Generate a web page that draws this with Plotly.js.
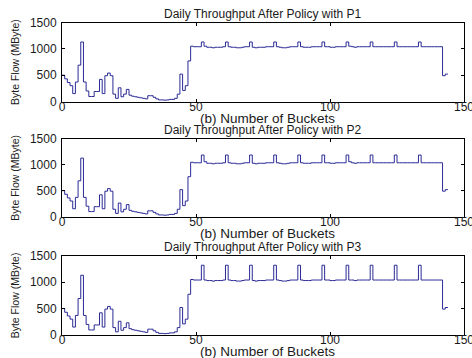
<!DOCTYPE html>
<html>
<head>
<meta charset="utf-8">
<script src="https://cdn.plot.ly/plotly-3.0.1.min.js"></script>
<style>
html,body{margin:0;padding:0;background:#fff;}
#chart{width:472px;height:358px;}
</style>
</head>
<body>
<div id="chart"></div>
<script>
// Buckets 0..48 (shared by all three policies)
const lowBuckets = [500,430,360,300,150,370,690,1130,370,200,95,95,190,190,420,150,490,540,490,140,60,260,90,140,230,120,100,90,80,70,60,50,110,110,80,50,30,30,25,30,40,40,60,140,520,210,300,770,1050];

// Buckets 49..143 for each policy
const p1Flat = [1040,1040,1040,
 1130,1050,1030,1030,1020,1030,1030,1030,1040,
 1130,1040,1030,1030,1020,1020,1030,1040,1040,
 1130,1030,1020,1030,1030,1030,1040,1040,1040,
 1130,1040,1030,1020,1020,1030,1040,1040,1040,
 1130,1040,1030,1030,1030,1040,1040,1040,1040,
 1130,1040,1040,1030,1030,1040,1040,1040,1040,
 1130,1050,1040,1030,1040,1040,1040,1040,1040,
 1130,1040,1040,1040,1040,1040,1040,1040,1040,
 1130,1040,1040,1040,1040,1040,1040,1040,1040,
 1130,1040,1040,1040,1040,1040,1040,1040,1040,
 490,520];
const p2Flat = [1040,1040,1040,
 1190,1060,1030,1030,1020,1030,1030,1030,1040,
 1190,1040,1030,1030,1020,1020,1030,1040,1040,
 1190,1030,1020,1030,1030,1030,1040,1040,1040,
 1190,1040,1030,1020,1020,1030,1040,1040,1040,
 1190,1040,1030,1030,1030,1040,1040,1040,1040,
 1190,1040,1040,1030,1030,1040,1040,1040,1040,
 1190,1060,1040,1030,1040,1040,1040,1040,1040,
 1190,1040,1040,1040,1040,1040,1040,1040,1040,
 1190,1040,1040,1040,1040,1040,1040,1040,1040,
 1190,1040,1040,1040,1040,1040,1040,1040,1040,
 490,520];
const p3Flat = [1040,1040,1040,
 1320,1040,1030,1030,1020,1030,1030,1030,1040,
 1320,1040,1030,1030,1020,1020,1030,1040,1040,
 1320,1030,1020,1030,1030,1030,1040,1040,1040,
 1320,1040,1030,1020,1020,1030,1040,1040,1040,
 1320,1040,1030,1030,1030,1040,1040,1040,1040,
 1320,1040,1040,1030,1030,1040,1040,1040,1040,
 1320,1040,1040,1030,1040,1040,1040,1040,1040,
 1320,1040,1040,1040,1040,1040,1040,1040,1040,
 1320,1040,1040,1040,1040,1040,1040,1040,1040,
 1320,1040,1040,1040,1040,1040,1040,1040,1040,
 490,520];

const policies = ['P1','P2','P3'];
const xTicks = [0,50,100,150];
const yTicks = [0,500,1000,1500];
const xLabel = '(b) Number of Buckets';
const yLabel = 'Byte Flow (MByte)';
const titlePrefix = 'Daily Throughput After Policy with ';

const W = 472, H = 358;
const plotLeft = 62, plotRight = 464;
const plotTops = [22.5, 139, 255.7];
const plotBottoms = [101.5, 216.5, 335];
const lineColor = '#2a2a96';
const textColor = '#1a1a1a';
const fontFam = 'Liberation Sans, Arial, sans-serif';

function py(px){ return 1 - px / H; }

const flats = [p1Flat, p2Flat, p3Flat];
const traces = [];
const layout = {
  width: W, height: H,
  margin: {l:0, r:0, t:0, b:0},
  paper_bgcolor: '#fff', plot_bgcolor: '#fff',
  showlegend: false,
  font: {family: fontFam, size: 12, color: textColor},
  annotations: []
};

flats.forEach((flat, k) => {
  const vals = lowBuckets.concat(flat);
  const ys = vals.concat([vals[vals.length-1]]);
  const xs = ys.map((_, i) => i);
  const sfx = k === 0 ? '' : String(k+1);
  traces.push({
    x: xs, y: ys, type: 'scatter', mode: 'lines',
    line: {shape: 'hv', color: lineColor, width: 1},
    xaxis: 'x' + sfx, yaxis: 'y' + sfx, hoverinfo: 'skip'
  });
  const common = {
    showline: true, linecolor: '#000', linewidth: 1, mirror: 'ticks',
    ticks: 'inside', ticklen: 3, tickcolor: '#000', tickwidth: 1,
    showgrid: false, zeroline: false, fixedrange: true,
    ticklabeloverflow: 'allow',
    tickfont: {family: fontFam, size: 12, color: textColor}
  };
  layout['xaxis' + sfx] = Object.assign({}, common, {
    domain: [plotLeft / W, plotRight / W],
    range: [0, 150], tickmode: 'array', tickvals: xTicks,
    anchor: 'y' + sfx, ticklabelstandoff: -6
  });
  layout['yaxis' + sfx] = Object.assign({}, common, {
    domain: [py(plotBottoms[k]), py(plotTops[k])],
    range: [0, 1500], tickmode: 'array', tickvals: yTicks,
    anchor: 'x' + sfx, ticklabelstandoff: 2
  });
  const cx = (plotLeft + plotRight) / 2 / W;
  layout.annotations.push({
    text: titlePrefix + policies[k], xref: 'paper', yref: 'paper',
    x: cx, y: py(plotTops[k] - 9), xanchor: 'center', yanchor: 'middle',
    showarrow: false, font: {family: fontFam, size: 12, color: textColor}
  });
  layout.annotations.push({
    text: xLabel, xref: 'paper', yref: 'paper',
    x: (cx * W + 4) / W, y: py(plotBottoms[k] + 16.5), xanchor: 'center', yanchor: 'middle',
    showarrow: false, font: {family: fontFam, size: 13.5, color: textColor}
  });
  layout.annotations.push({
    text: yLabel, xref: 'paper', yref: 'paper', textangle: -90,
    x: 15 / W, y: py((plotTops[k] + plotBottoms[k]) / 2), xanchor: 'center', yanchor: 'middle',
    showarrow: false, font: {family: 'Liberation Sans Narrow, Liberation Sans, sans-serif', size: 10.5, color: textColor}
  });
});

Plotly.newPlot('chart', traces, layout, {displayModeBar: false, staticPlot: true});
</script>
</body>
</html>
